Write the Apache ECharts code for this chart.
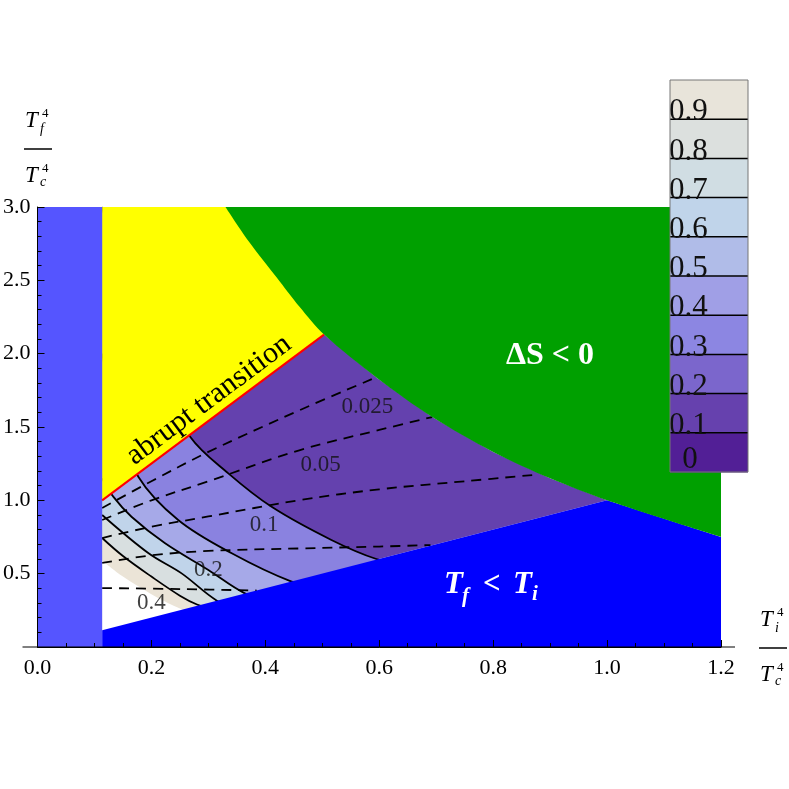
<!DOCTYPE html>
<html><head><meta charset="utf-8">
<script src="https://cdn.jsdelivr.net/npm/echarts@6/dist/echarts.min.js"></script>
<style>html,body{margin:0;padding:0;background:#fff}#c{width:789px;height:789px}</style>
</head><body><div id="c"></div>
<script>
// ---------- data ----------
const xTickLabels = ['0.0','0.2','0.4','0.6','0.8','1.0','1.2'];
const yTickLabels = ['','0.5','1.0','1.5','2.0','2.5','3.0'];

// left strip (T_i below threshold)
const stripX = [0, 0.1135];
const stripY = [3.0, 3.0];
// abrupt transition line (red), yellow above it
const redX = [0.1135, 0.503];
const redY = [1.0, 2.13];
// Delta S = 0 boundary (green above)
const greenX = [0.33, 0.37, 0.42, 0.46, 0.503, 0.596, 0.693, 0.80, 0.90, 1.0, 1.2];
const greenY = [3.0, 2.77, 2.52, 2.32, 2.13, 1.834, 1.568, 1.33, 1.15, 1.0, 0.75];
// T_f = T_i boundary (blue below)
const blueX = [0.1135, 1.0, 1.2];
const blueY = [0.1135, 1.0, 0.75];

// filled contour boundaries (outer -> inner)
const s1X = [0.1135, 0.15, 0.2, 0.268, 0.335, 0.411, 0.516, 0.595, 0.68];
const s1Y = [3.0, 2.5, 1.93, 1.434, 1.184, 0.956, 0.730, 0.600, 0.52];
const s2X = [0.1135, 0.14, 0.177, 0.247, 0.341, 0.445, 0.52];
const s2Y = [2.0, 1.55, 1.161, 0.866, 0.639, 0.448, 0.38];
const s3X = [0.1135, 0.133, 0.165, 0.224, 0.300, 0.364, 0.42];
const s3Y = [1.15, 1.025, 0.888, 0.707, 0.525, 0.366, 0.30];
const s4X = [0.1135, 0.195, 0.253, 0.315, 0.36];
const s4Y = [0.90, 0.639, 0.502, 0.316, 0.25];
const s5X = [0.1135, 0.15, 0.2, 0.25, 0.28, 0.32];
const s5Y = [0.743, 0.62, 0.48, 0.35, 0.29, 0.24];
const wX = [0.1135, 0.15, 0.2, 0.24, 0.27];
const wY = [0.59, 0.48, 0.36, 0.28, 0.23];

// dashed curves
const d1X = [0.1135, 0.2, 0.3, 0.461, 0.596];
const d1Y = [0.948, 1.13, 1.33, 1.616, 1.841];
const d2X = [0.1135, 0.2, 0.3, 0.461, 0.6, 0.693];
const d2Y = [0.866, 1.0, 1.13, 1.343, 1.48, 1.568];
const d3X = [0.1135, 0.2, 0.3, 0.461, 0.6, 0.75, 0.87];
const d3Y = [0.743, 0.82, 0.89, 1.002, 1.075, 1.13, 1.173];
const d4X = [0.1135, 0.2, 0.3, 0.461, 0.6, 0.69];
const d4Y = [0.573, 0.625, 0.655, 0.672, 0.685, 0.695];
const d5X = [0.1135, 0.25, 0.385];
const d5Y = [0.402, 0.395, 0.385];

// contour labels
const labelText = ['0.025', '0.05', '0.1', '0.2', '0.4'];
const labelX = [0.579, 0.497, 0.398, 0.300, 0.200];
const labelY = [1.636, 1.241, 0.832, 0.525, 0.298];

// colour bar
const cbLabels = ['0', '0.1', '0.2', '0.3', '0.4', '0.5', '0.6', '0.7', '0.8', '0.9'];

// ---------- styles ----------
const cbColors = ['#521f96','#6641ae','#7b66cc','#8c86e2','#a09fe6','#b0bce8','#c0d4ea','#d0dde3','#dce0de','#e8e4da'];
const bandColors = ['#8a82e0', '#a6a9e8', '#c0d4ea', '#d8dfe0', '#ebe4d7', '#ffffff'];
const bandLine = [true, true, true, true, true, false];
const SERIF = '"Liberation Serif", "DejaVu Serif", serif';

const zip = (xs, ys) => xs.map((x, i) => [x, ys[i]]);

const chart = echarts.init(document.getElementById('c'), null, {renderer: 'canvas'});

const series = [];
// purple base region
series.push({
  type: 'custom', z: 1, silent: true, data: [[0.5, 1.5]],
  renderItem: (params, api) => {
    const verts = [[redX[0], redY[0]], [redX[1], redY[1]]];
    greenX.forEach((x, i) => { if (x > redX[1] && x <= blueX[1]) verts.push([x, greenY[i]]); });
    verts.push([blueX[0], blueY[0]]);
    return {type: 'polygon', shape: {points: verts.map(p => api.coord(p))}, style: {fill: '#6441ae'}};
  }
});
// bands
[[s1X,s1Y],[s2X,s2Y],[s3X,s3Y],[s4X,s4Y],[s5X,s5Y],[wX,wY]].forEach((b, i) => {
  series.push({
    type: 'line', z: 2, silent: true, smooth: 0.35, showSymbol: false,
    data: zip(b[0], b[1]),
    lineStyle: {color: '#000', width: bandLine[i] ? 1.8 : 0},
    areaStyle: {color: bandColors[i], opacity: 1, origin: 'start'}
  });
});
// dashed curves
[[d1X,d1Y],[d2X,d2Y],[d3X,d3Y],[d4X,d4Y],[d5X,d5Y]].forEach(d => {
  series.push({
    type: 'line', z: 3, silent: true, smooth: 0.35, showSymbol: false,
    data: zip(d[0], d[1]),
    lineStyle: {color: '#000', width: 1.8, type: [10, 7]}
  });
});
// yellow (above the abrupt transition line)
series.push({
  type: 'line', z: 4, silent: true, showSymbol: false, data: zip(redX, redY),
  lineStyle: {color: '#ff0000', width: 2},
  areaStyle: {color: '#ffff00', opacity: 1, origin: 'end'}
});
// blue (T_f < T_i)
series.push({
  type: 'line', z: 4, silent: true, showSymbol: false, data: zip(blueX, blueY),
  lineStyle: {width: 0, color: '#0000ff'},
  areaStyle: {color: '#0000ff', opacity: 1, origin: 'start'}
});
// green (Delta S < 0)
series.push({
  type: 'line', z: 4, silent: true, showSymbol: false, smooth: 0.3, data: zip(greenX, greenY),
  lineStyle: {width: 0, color: '#00a000'},
  areaStyle: {color: '#00a000', opacity: 1, origin: 'end'}
});
// left strip
series.push({
  type: 'line', z: 4, silent: true, showSymbol: false, data: zip(stripX, stripY),
  lineStyle: {width: 0, color: '#5555ff'},
  areaStyle: {color: '#5555ff', opacity: 1, origin: 'start'}
});
// contour labels
series.push({
  type: 'scatter', z: 5, silent: true, symbolSize: 1,
  itemStyle: {color: 'rgba(0,0,0,0)'},
  data: labelText.map((t, i) => ({name: t, value: [labelX[i], labelY[i]]})),
  label: {show: true, position: 'inside', formatter: p => p.name,
          fontFamily: SERIF, fontSize: 23, color: '#111'}
});

chart.setOption({
  animation: false,
  grid: {left: 37, right: 68, top: 207, bottom: 142, containLabel: false},
  xAxis: {
    type: 'value', min: 0, max: 1.2, interval: 0.2, z: 10,
    axisLine: {show: true, onZero: false, lineStyle: {color: '#000', width: 1}},
    axisTick: {show: true, inside: true, length: 7, lineStyle: {color: '#000', width: 1}},
    minorTick: {show: true, splitNumber: 4, length: 4, lineStyle: {color: '#000', width: 1}},
    splitLine: {show: false}, minorSplitLine: {show: false},
    axisLabel: {formatter: (v) => xTickLabels[Math.round(v / 0.2)], fontFamily: SERIF, fontSize: 22, color: '#000', margin: 10}
  },
  yAxis: {
    type: 'value', min: 0, max: 3, interval: 0.5, z: 10,
    axisLine: {show: true, onZero: false, lineStyle: {color: '#000', width: 1}},
    axisTick: {show: true, inside: true, length: 7, lineStyle: {color: '#000', width: 1}},
    minorTick: {show: true, splitNumber: 5, length: 4, lineStyle: {color: '#000', width: 1}},
    splitLine: {show: false}, minorSplitLine: {show: false},
    axisLabel: {formatter: (v) => yTickLabels[Math.round(v / 0.5)], fontFamily: SERIF, fontSize: 22, color: '#000', margin: 7}
  },
  series: series
});

// ---------- decorations ----------
const g = [];
const px = (p) => chart.convertToPixel({gridIndex: 0}, p);
const o = px([0, 0]), e = px([1.2, 0]);
g.push({type: 'line', z: 11, shape: {x1: o[0] - 15, y1: o[1], x2: e[0] + 14, y2: e[1]}, style: {stroke: '#000', lineWidth: 1}});

function frac(x0, barY, sub) {
  const t = (text, x, y, size, italic) => ({type: 'text', z: 20, x: x, y: y,
    style: {text: text, font: (italic ? 'italic ' : '') + size + 'px ' + SERIF, fill: '#000', verticalAlign: 'middle'}});
  g.push(t('T', x0 + 1, barY - 28, 23, true));
  g.push(t('4', x0 + 18, barY - 35, 13, false));
  g.push(t(sub, x0 + 16, barY - 20, 14, true));
  g.push({type: 'line', z: 20, shape: {x1: x0, y1: barY, x2: x0 + 28, y2: barY}, style: {stroke: '#000', lineWidth: 1.5}});
  g.push(t('T', x0 + 1, barY + 27, 23, true));
  g.push(t('4', x0 + 18, barY + 20, 13, false));
  g.push(t('c', x0 + 16, barY + 33, 14, true));
}
frac(24, 149, 'f');
frac(759, 648, 'i');

// colour bar
const cbL = 670, cbT = 80, cbW = 78, cbH = 392, bh = cbH / cbLabels.length;
cbColors.forEach((c, i) => {
  g.push({type: 'rect', z: 30, shape: {x: cbL, y: cbT + (cbLabels.length - 1 - i) * bh, width: cbW, height: bh + 0.5}, style: {fill: c}});
});
for (let i = 1; i < cbLabels.length; i++) {
  const y = cbT + (cbLabels.length - i) * bh;
  g.push({type: 'line', z: 31, shape: {x1: cbL, y1: y, x2: cbL + cbW, y2: y}, style: {stroke: '#000', lineWidth: 1.5}});
  g.push({type: 'text', z: 32, x: cbL - 1, y: y - 7, style: {text: cbLabels[i], font: '31px ' + SERIF, fill: '#111', verticalAlign: 'middle', align: 'left'}});
}
g.push({type: 'text', z: 32, x: cbL + 20, y: cbT + cbH - 12, style: {text: cbLabels[0], font: '31px ' + SERIF, fill: '#111', verticalAlign: 'middle', align: 'center'}});
g.push({type: 'rect', z: 33, shape: {x: cbL, y: cbT, width: cbW, height: cbH}, style: {fill: null, stroke: '#777', lineWidth: 1}});

// region annotations
const r1 = px([redX[0], redY[0]]), r2 = px([redX[1], redY[1]]);
const ang = Math.atan2(r1[1] - r2[1], r2[0] - r1[0]);
g.push({type: 'text', z: 20, x: 209, y: 400, rotation: ang,
  style: {text: 'abrupt transition', font: '30px ' + SERIF, fill: '#000', align: 'center', verticalAlign: 'middle'}});
g.push({type: 'text', z: 20, x: 550, y: 356,
  style: {text: '\u0394S < 0', font: 'bold 32px ' + SERIF, fill: '#fff', align: 'center', verticalAlign: 'middle'}});
const tf = (text, x, y, size, italic) => g.push({type: 'text', z: 20, x: x, y: y,
  style: {text: text, font: (italic ? 'italic ' : '') + 'bold ' + size + 'px ' + SERIF, fill: '#fff', align: 'left', verticalAlign: 'middle'}});
tf('T', 444, 585, 31, true);
tf('f', 462, 597, 21, true);
tf('<', 483, 585, 31, false);
tf('T', 513, 585, 31, true);
tf('i', 532, 595, 21, true);

chart.setOption({graphic: g});
</script>
</body></html>
